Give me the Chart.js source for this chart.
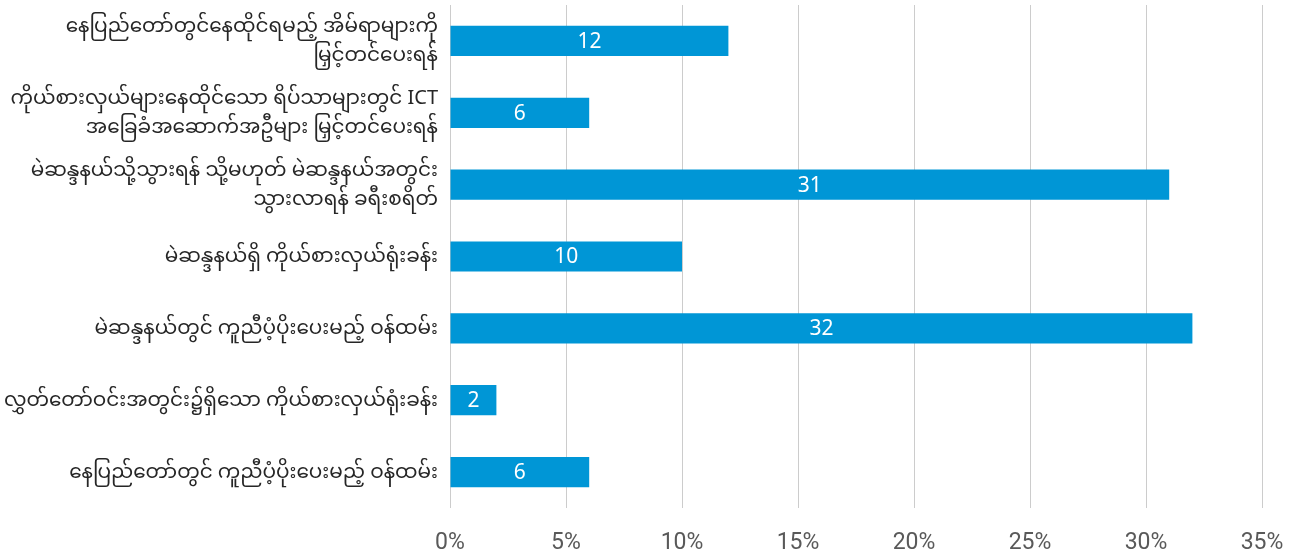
<!DOCTYPE html>
<html lang="my">
<head>
    <meta charset="UTF-8">
    <title>Bar chart</title>
    <style>
        html, body {
            margin: 0;
            padding: 0;
            background: #ffffff;
        }
        #chart-container {
            width: 1303px;
            height: 559px;
        }
    </style>
    <script src="https://cdn.jsdelivr.net/npm/chart.js"></script>
</head>
<body>
    <div id="chart-container">
        <canvas id="barChart"></canvas>
    </div>
    <script>
        // categories, top to bottom (multi-line labels as arrays)
        const categories = [
            ['နေပြည်တော်တွင်နေထိုင်ရမည့် အိမ်ရာများကို', 'မြှင့်တင်ပေးရန်'],
            ['ကိုယ်စားလှယ်များနေထိုင်သော ရိပ်သာများတွင် ICT', 'အခြေခံအဆောက်အဦများ မြှင့်တင်ပေးရန်'],
            ['မဲဆန္ဒနယ်သို့သွားရန် သို့မဟုတ် မဲဆန္ဒနယ်အတွင်း', 'သွားလာရန် ခရီးစရိတ်'],
            'မဲဆန္ဒနယ်ရှိ ကိုယ်စားလှယ်ရုံးခန်း',
            'မဲဆန္ဒနယ်တွင် ကူညီပံ့ပိုးပေးမည့် ဝန်ထမ်း',
            'လွှတ်တော်ဝင်းအတွင်း၌ရှိသော ကိုယ်စားလှယ်ရုံးခန်း',
            'နေပြည်တော်တွင် ကူညီပံ့ပိုးပေးမည့် ဝန်ထမ်း'
        ];
        // percent of respondents
        const values = [12, 6, 31, 10, 32, 2, 6];
        const xTicks = [0, 5, 10, 15, 20, 25, 30, 35];

        const fontFamily = "'Noto Sans', 'Noto Sans Myanmar', sans-serif";
        const tickFont = "Roboto, 'Noto Sans', sans-serif";

        // write the value in the middle of each bar
        const barLabels = {
            id: 'barLabels',
            afterDatasetsDraw(chart) {
                const ctx = chart.ctx;
                const meta = chart.getDatasetMeta(0);
                ctx.save();
                ctx.fillStyle = '#ffffff';
                ctx.font = '21px ' + fontFamily;
                ctx.textAlign = 'center';
                ctx.textBaseline = 'middle';
                meta.data.forEach((bar, i) => {
                    const cx = (bar.x + bar.base) / 2;
                    ctx.fillText(String(values[i]), cx, bar.y + 1);
                });
                ctx.restore();
            }
        };

        const ctx = document.getElementById('barChart').getContext('2d');
        new Chart(ctx, {
            type: 'bar',
            data: {
                labels: categories,
                datasets: [{
                    data: values,
                    backgroundColor: '#0096d6',
                    borderWidth: 0,
                    categoryPercentage: 1,
                    barPercentage: 0.42
                }]
            },
            options: {
                indexAxis: 'y',
                responsive: true,
                maintainAspectRatio: false,
                animation: false,
                layout: {
                    padding: { top: 5, right: 41, bottom: 2, left: 0 }
                },
                plugins: {
                    legend: { display: false },
                    tooltip: { enabled: false }
                },
                scales: {
                    x: {
                        min: 0,
                        max: 35,
                        afterBuildTicks: (scale) => {
                            scale.ticks = xTicks.map(v => ({ value: v }));
                        },
                        afterFit: (scale) => {
                            scale.height = 49;
                            scale.paddingLeft = 0;
                            scale.paddingRight = 0;
                        },
                        grid: {
                            color: '#cccccc',
                            lineWidth: 1,
                            drawTicks: false
                        },
                        border: { display: false },
                        ticks: {
                            callback: (v) => v + '%',
                            color: '#595959',
                            padding: 21,
                            maxRotation: 0,
                            font: { size: 23, family: tickFont }
                        }
                    },
                    y: {
                        grid: { display: false },
                        border: { display: false },
                        afterFit: (scale) => {
                            scale.width = 450;
                            scale.paddingTop = 0;
                            scale.paddingBottom = 0;
                        },
                        ticks: {
                            color: '#262626',
                            padding: 4,
                            font: { size: 20, family: fontFamily, lineHeight: 1.45 }
                        }
                    }
                }
            },
            plugins: [barLabels]
        });
    </script>
</body>
</html>
